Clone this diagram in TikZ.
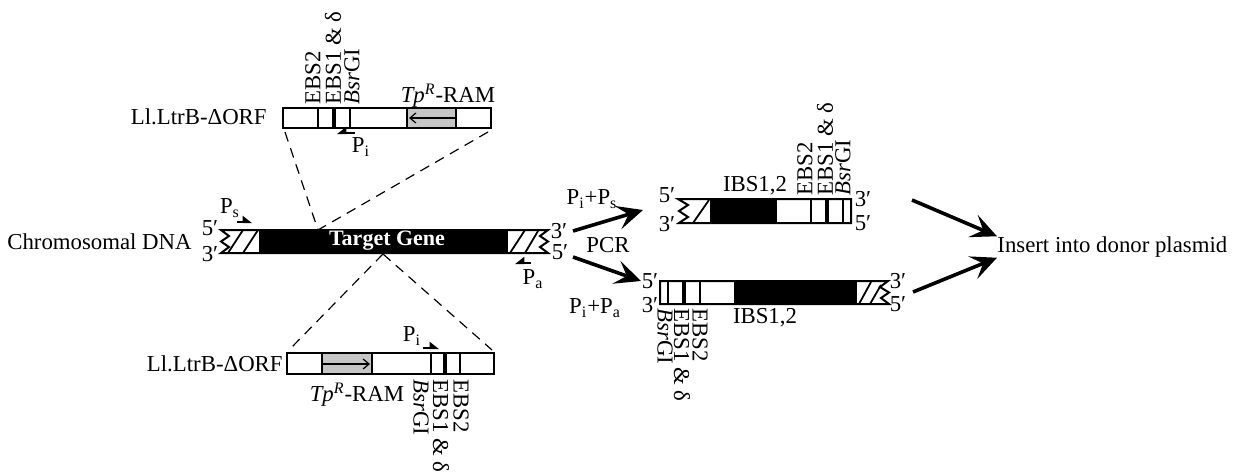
\documentclass[tikz,border=0pt]{standalone}
\usepackage{fontspec}
\setmainfont{Liberation Serif}
\usetikzlibrary{arrows.meta}
\newcommand{\fiveend}{5′}
\newcommand{\threeend}{3′}
\newcommand{\bsrgi}{\textit{Bsr}GI}
\newcommand{\tpram}{\textit{Tp\textsuperscript{R}}-RAM}
\begin{document}
\begin{tikzpicture}[x=0.5pt,y=-0.5pt,
  every node/.style={font=\fontsize{11.4}{13}\selectfont,inner sep=0pt},
  box/.style={line width=1pt},
  site/.style={line width=0.9pt},
  core/.style={line width=2.2pt},
  hatch/.style={line width=0.9pt},
  guide/.style={dash pattern=on 5pt off 3.5pt,line width=0.6pt},
  pcr/.style={line width=1.8pt,-{Stealth[length=13pt,width=12pt,inset=5.5pt]}},
  primer/.style={line width=1pt,-{Triangle[harpoon,length=4pt,width=6pt]}},
  primerback/.style={line width=1pt,-{Triangle[harpoon,swap,length=4pt,width=6pt]}},
  ram/.style={line width=0.6pt,-{Straight Barb[length=3pt,width=5pt]}},
  tagup/.style={rotate=90,anchor=west},
  tagdown/.style={rotate=-90,anchor=west}]
\useasboundingbox (0,0) rectangle (1236,473);

% intron construct, above
\begin{scope}
\fill[gray!45] (407,108) rectangle (456,128);
\draw[box] (283,108) rectangle (491,128);
\foreach \x in {318,350,407,456} \draw[site] (\x,108) -- (\x,128);
\draw[core] (334,108) -- (334,128);
\draw[ram] (455,118) -- (409,118);
\coordinate (ltrA-sw) at (285,132);
\coordinate (ltrA-se) at (488,132);
\node[anchor=east] (ltrA) at (267,117) {Ll.LtrB-ΔORF};
\node (ramA) at (448,96) {\tpram};
\node[tagup] (ebs2A) at (313,105) {EBS2};
\node[tagup] (ebs1A) at (333,105) {EBS1 \& δ};
\node[tagup] (bsrA) at (352,105) {\bsrgi};
\coordinate (piA-0) at (355,133);
\coordinate (piA-1) at (337,133);
\draw[primerback] (piA-0) -- (piA-1);
\node (piA) at (361,147) {P\textsubscript{i}};
\end{scope}

% chromosomal DNA
\begin{scope}
\fill (259,230) rectangle (508,253);
\draw[box] (221,230) -- (548,230) -- (540,236) -- (548,241.5) -- (540,247) -- (548,253)
  -- (221,253) -- (229,247) -- (221,241.5) -- (229,236) -- cycle;
\draw[hatch] (228,253) -- (243,230) (243,253) -- (258,230);
\draw[hatch] (510,253) -- (525,230) (525,253) -- (538,231);
\node (gene) at (387,241) {\color{white}\fontsize{11}{13}\selectfont\bfseries Target Gene};
\node[anchor=east] (chrom) at (192,242) {Chromosomal DNA};
\node (c5l) at (210,228) {\fiveend};
\node (c3l) at (210,254) {\threeend};
\node (c3r) at (559,231) {\threeend};
\node (c5r) at (560,252) {\fiveend};
\coordinate (dna-in) at (318,230);
\coordinate (dna-out) at (383,254);
\coordinate (ps-0) at (237,222);
\coordinate (ps-1) at (252,222);
\draw[primer] (ps-0) -- (ps-1);
\node (ps) at (230,208) {P\textsubscript{s}};
\coordinate (pa-0) at (531,263);
\coordinate (pa-1) at (515,263);
\draw[primerback] (pa-0) -- (pa-1);
\node (pa) at (533,279) {P\textsubscript{a}};
\end{scope}

% intron construct, below
\begin{scope}
\fill[gray!45] (322,353) rectangle (372,374);
\draw[box] (287,353) rectangle (494,374);
\foreach \x in {322,372,431,460} \draw[site] (\x,353) -- (\x,374);
\draw[core] (445,353) -- (445,374);
\draw[ram] (323,364) -- (370,364);
\coordinate (ltrB-nw) at (289,350);
\coordinate (ltrB-ne) at (492,350);
\node[anchor=east] (ltrB) at (283,364) {Ll.LtrB-ΔORF};
\node (ramB) at (357,395) {\tpram};
\node[tagdown] (bsrB) at (421,379) {\bsrgi};
\node[tagdown] (ebs1B) at (441,379) {EBS1 \& δ};
\node[tagdown] (ebs2B) at (461,379) {EBS2};
\coordinate (piB-0) at (423,348);
\coordinate (piB-1) at (439,348);
\draw[primer] (piB-0) -- (piB-1);
\node (piB) at (412,336) {P\textsubscript{i}};
\end{scope}

% insertion guides
\draw[guide] (ltrA-sw) -- (dna-in);
\draw[guide] (ltrA-se) -- (dna-in);
\draw[guide] (dna-out) -- (ltrB-nw);
\draw[guide] (dna-out) -- (ltrB-ne);

% PCR product with Pi+Ps
\begin{scope}
\fill (710,199) rectangle (777,223);
\draw[box] (851,199) -- (678,199) -- (688,205) -- (679,211) -- (688,217) -- (679,223)
  -- (851,223) -- cycle;
\draw[hatch] (693,223) -- (709,200);
\foreach \x in {811,843} \draw[site] (\x,199) -- (\x,223);
\draw[core] (827,199) -- (827,223);
\node (u5l) at (667,195) {\fiveend};
\node (u3l) at (667,224) {\threeend};
\node (u3r) at (863,199) {\threeend};
\node (u5r) at (863,223) {\fiveend};
\node (ibsU) at (755,186) {IBS1,2};
\node[tagup] (ebs2U) at (805,196) {EBS2};
\node[tagup] (ebs1U) at (825,196) {EBS1 \& δ};
\node[tagup] (bsrU) at (843,196) {\bsrgi};
\end{scope}

% PCR product with Pi+Pa
\begin{scope}
\fill (734,281) rectangle (857,304);
\draw[box] (660,281) -- (888,281) -- (880,287) -- (889,292.5) -- (881,298) -- (889,304)
  -- (660,304) -- cycle;
\draw[hatch] (859,304) -- (871,282) (870,304) -- (881,285);
\foreach \x in {668,700} \draw[site] (\x,281) -- (\x,304);
\draw[core] (684,281) -- (684,304);
\node (d5l) at (650,281) {\fiveend};
\node (d3l) at (650,305) {\threeend};
\node (d3r) at (898,281) {\threeend};
\node (d5r) at (898,304) {\fiveend};
\node (ibsD) at (765,318) {IBS1,2};
\node[tagdown] (bsrD) at (665,308) {\bsrgi};
\node[tagdown] (ebs1D) at (682,308) {EBS1 \& δ};
\node[tagdown] (ebs2D) at (700,308) {EBS2};
\end{scope}

% PCR and cloning steps
\coordinate (pcr-a0) at (573,231);
\coordinate (pcr-a1) at (643,210);
\coordinate (pcr-b0) at (573,257);
\coordinate (pcr-b1) at (641,281);
\draw[pcr] (pcr-a0) -- (pcr-a1);
\draw[pcr] (pcr-b0) -- (pcr-b1);
\node (pips) at (592,199) {P\textsubscript{i}+P\textsubscript{s}};
\node (pcr) at (608,245) {PCR};
\node (pipa) at (595,308) {P\textsubscript{i}+P\textsubscript{a}};
\node[anchor=west] (donor) at (997,247) {Insert into donor plasmid};
\coordinate (ins-a0) at (912,200);
\coordinate (ins-b0) at (913,292);
\draw[pcr] (ins-a0) -- (donor.north west);
\draw[pcr] (ins-b0) -- (donor.south west);
\end{tikzpicture}
\end{document}
